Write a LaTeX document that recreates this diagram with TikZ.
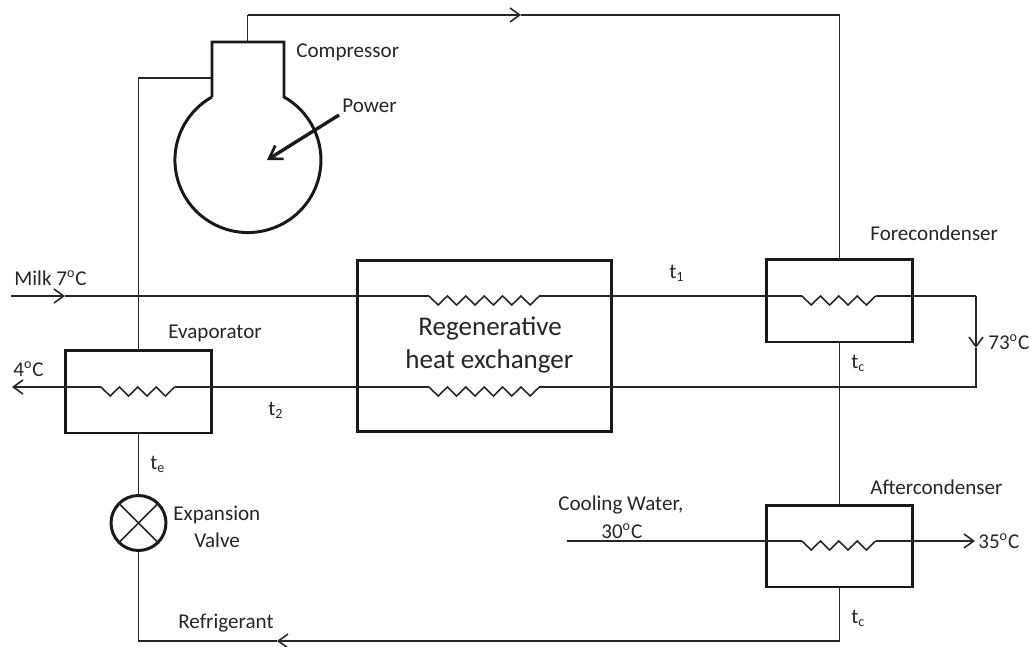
\documentclass[tikz,border=0pt]{standalone}
\usepackage{fontspec}
\setmainfont{Carlito}
\usetikzlibrary{arrows.meta}
\tikzset{
  pipe/.style={draw=black!85,line width=0.9pt},
  flow/.style={pipe,-{Straight Barb[length=5.5pt,width=8pt,line width=0.9pt]}},
  wall/.style={draw=black!90,line width=1.7pt},
  label/.style={anchor=west,inner sep=0pt,font=\fontsize{12}{14}\selectfont,text=black!85},
  pics/coil/.style={code={
    \draw[pipe] (0,0) foreach \i in {1,...,#1} { -- ++(9.2,9) -- ++(9.2,-9)};
  }}
}
\begin{document}
\begin{tikzpicture}[x=0.02cm,y=-0.02cm]
        \useasboundingbox (0,0) rectangle (1031,646);

        % refrigerant corners and flow ends
        \coordinate (cmpout) at (247.5,42);
        \coordinate (cmpin) at (212,78);
        \coordinate (topleft) at (247.5,15);
        \coordinate (toparrow) at (521,15);
        \coordinate (topright) at (839.5,15);
        \coordinate (sucleft) at (138.5,78);
        \coordinate (botleft) at (138.5,641);
        \coordinate (botright) at (839.5,641);
        \coordinate (botarrow) at (277,641);
        \coordinate (milkin) at (11,296);
        \coordinate (milkarrow) at (65,296);
        \coordinate (milkright) at (976,296);
        \coordinate (hotarrow) at (976,348);
        \coordinate (hotright) at (976,387);
        \coordinate (milkout) at (12,387);
        \coordinate (waterin) at (567,541);
        \coordinate (waterout) at (975,541);
        \coordinate (powerin) at (339,115);
        \coordinate (powerat) at (267,160);

        % coil ends
        \coordinate (hx1a) at (429,296);
        \coordinate (hx1b) at (539.4,296);
        \coordinate (fc1a) at (802,296);
        \coordinate (fc1b) at (875.6,296);
        \coordinate (hx2a) at (429,387);
        \coordinate (hx2b) at (539.4,387);
        \coordinate (ev1a) at (101,387);
        \coordinate (ev1b) at (174.6,387);
        \coordinate (ac1a) at (802,541);
        \coordinate (ac1b) at (875.6,541);

        % boxes
        \begin{scope}[every node/.style={wall,draw,inner sep=0pt}]
          \node (regen) at (484.5,346) [minimum width=5.1cm,minimum height=3.44cm] {};
          \node (fore) at (839.5,300.5) [minimum width=2.92cm,minimum height=1.66cm] {};
          \node (after) at (839.5,546) [minimum width=2.92cm,minimum height=1.64cm] {};
          \node (evap) at (138.5,391.5) [minimum width=2.94cm,minimum height=1.66cm] {};
          \node (valve) at (138.5,523) [circle,minimum size=1.1cm] {};
        \end{scope}

        % compressor body
        \draw[wall] (212,97) |- (284,42) -- (284,97)
          arc[start angle=-60.4,end angle=240.4,x radius=73,y radius=72.5];
        \draw[pipe] (valve.45) -- (valve.225);
        \draw[pipe] (valve.135) -- (valve.315);

        % refrigerant loop
        \draw[pipe] (cmpout) -- (topleft);
        \draw[flow] (topleft) -- (toparrow);
        \draw[pipe] (toparrow) -- (topright) -- (fore.north);
        \draw[pipe] (fore.south) -- (after.north);
        \draw[pipe] (after.south) -- (botright);
        \draw[flow] (botright) -- (botarrow);
        \draw[pipe] (botarrow) -- (botleft) -- (valve.south);
        \draw[pipe] (valve.north) -- (evap.south);
        \draw[pipe] (evap.north) -- (sucleft) -- (cmpin);

        % milk line
        \draw[flow] (milkin) -- (milkarrow);
        \draw[pipe] (milkarrow) -- (hx1a);
        \path (hx1a) pic {coil=6};
        \draw[pipe] (hx1b) -- (fc1a);
        \path (fc1a) pic {coil=4};
        \draw[pipe] (fc1b) -- (milkright);
        \draw[flow] (milkright) -- (hotarrow);
        \draw[pipe] (hotarrow) -- (hotright) -- (hx2b);
        \path (hx2a) pic {coil=6};
        \draw[pipe] (hx2a) -- (ev1b);
        \path (ev1a) pic {coil=4};
        \draw[flow] (ev1a) -- (milkout);

        % cooling water
        \draw[pipe] (waterin) -- (ac1a);
        \path (ac1a) pic {coil=4};
        \draw[flow,line width=1.1pt] (ac1b) -- (waterout);

        \draw[line width=1.9pt,black!90,-{Straight Barb[length=7pt,width=9pt,line width=1.5pt]}] (powerin) -- (powerat);

        % labels
        \begin{scope}[every node/.style={label}]
          \node (lcmp) at (296,52) {Compressor};
          \node (lpow) at (342,106) {Power};
          \node (lmilk) at (14,278) {Milk 7\textsuperscript{o}C};
          \node (levap) at (168,333) {Evaporator};
          \node (lfour) at (13,369) {4\textsuperscript{o}C};
          \node (ltwo) at (268,410) {t\textsubscript{2}};
          \node (lone) at (669,273) {t\textsubscript{1}};
          \node (lte) at (150,464) {t\textsubscript{e}};
          \node (lfore) at (870,233) {Forecondenser};
          \node (lafter) at (870,487) {Aftercondenser};
          \node (lhot) at (988,342) {73\textsuperscript{o}C};
          \node (ltc) at (851,363) {t\textsubscript{c}};
          \node (ltd) at (851,618) {t\textsubscript{c}};
          \node (lcold) at (978,541) {35\textsuperscript{o}C};
          \node (lref) at (178,623) {Refrigerant};
          \node (lwat) at (558,505) {Cooling Water,};
          \node (lthi) at (601,531) {30\textsuperscript{o}C};
          \node (lexp) at (173,515) {Expansion};
          \node (lval) at (194,540) {Valve};
          \node (lreg) at (418,328) [font=\fontsize{15.4}{18}\selectfont] {Regenerative};
          \node (lhea) at (405,361) [font=\fontsize{15.4}{18}\selectfont] {heat exchanger};
        \end{scope}

      \end{tikzpicture}
\end{document}
